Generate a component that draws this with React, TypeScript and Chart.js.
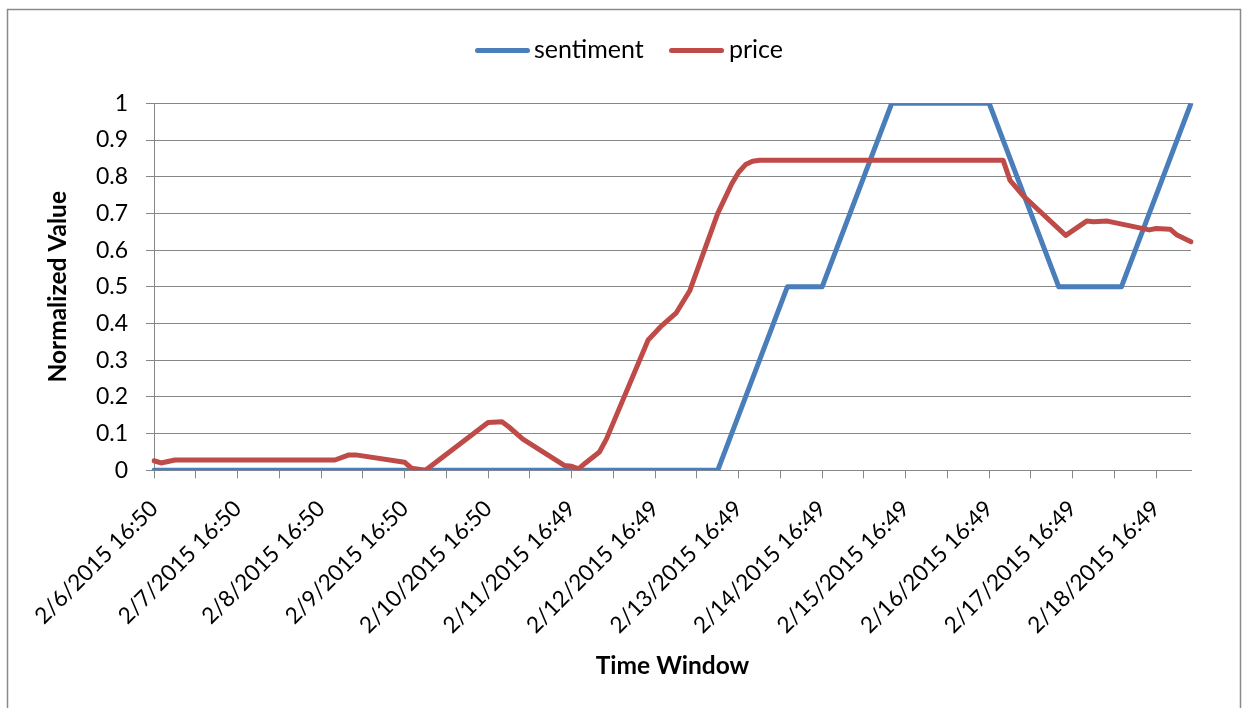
import React, { useEffect, useRef } from 'react';
import { Chart, registerables } from 'chart.js';

Chart.register(...registerables);

// Tick labels shown every 12th 2-hour category (one per day)
const dayLabels = [
  '2/6/2015 16:50', '2/7/2015 16:50', '2/8/2015 16:50', '2/9/2015 16:50',
  '2/10/2015 16:50', '2/11/2015 16:49', '2/12/2015 16:49', '2/13/2015 16:49',
  '2/14/2015 16:49', '2/15/2015 16:49', '2/16/2015 16:49', '2/17/2015 16:49',
  '2/18/2015 16:49',
];
const categoryCount = 150;
const labelEvery = 12;
const tickEvery = 6;

// Series: category index -> value (empty cells in between are connected)
const sentimentIdx = [0, 81, 91, 96, 106, 120, 130, 139, 149];
const sentimentVal = [0, 0, 0.5, 0.5, 1, 1, 0.5, 0.5, 1];

const priceIdx = [0, 1, 3, 26, 28, 29, 36, 37, 39, 48, 50, 51, 53, 59, 60, 61, 62, 64, 65, 71, 73, 75, 77, 81, 83, 84, 85, 86, 87, 122, 123, 125, 131, 134, 135, 137, 143, 144, 146, 147, 149];
const priceVal = [0.026, 0.02, 0.028, 0.028, 0.042, 0.042, 0.022, 0.006, 0.0, 0.13, 0.132, 0.118, 0.085, 0.013, 0.011, 0.004, 0.02, 0.05, 0.085, 0.355, 0.395, 0.428, 0.49, 0.7, 0.78, 0.812, 0.833, 0.842, 0.845, 0.845, 0.79, 0.746, 0.64, 0.679, 0.677, 0.679, 0.655, 0.659, 0.657, 0.641, 0.623];

const seriesNames = ['sentiment', 'price'];
const seriesColors = ['#4A7EBB', '#BE4B48'];

const FONT = "Lato, 'Open Sans', sans-serif";
const GRID = '#878787';

function sparse(idx: number[], vals: number[]) {
  const arr: (number | null)[] = new Array(categoryCount).fill(null);
  idx.forEach((k, i) => { arr[k] = vals[i]; });
  return arr;
}

const categories = Array.from({ length: categoryCount }, (_, i) =>
  i % labelEvery === 0 ? dayLabels[i / labelEvery] : ''
);

const framePlugin = {
  id: 'frame',
  beforeDraw(chart: any) {
    const ctx = chart.ctx;
    ctx.save();
    ctx.fillStyle = '#ffffff';
    ctx.fillRect(0, 0, chart.width, chart.height);
    ctx.strokeStyle = '#8a8a8a';
    ctx.lineWidth = 1.5;
    ctx.strokeRect(7.5, 9.5, 1233, 720);
    ctx.restore();
  },
};

export default function App() {
  const ref = useRef<HTMLCanvasElement | null>(null);

  useEffect(() => {
    if (!ref.current) return;
    const chart = new Chart(ref.current, {
      type: 'line',
      data: {
        labels: categories,
        datasets: [
          {
            label: seriesNames[0],
            data: sparse(sentimentIdx, sentimentVal),
            borderColor: seriesColors[0],
            backgroundColor: seriesColors[0],
            borderWidth: 5,
            pointRadius: 0,
            spanGaps: true,
            tension: 0,
            borderJoinStyle: 'round',
            borderCapStyle: 'round',
            order: 1,
          },
          {
            label: seriesNames[1],
            data: sparse(priceIdx, priceVal),
            borderColor: seriesColors[1],
            backgroundColor: seriesColors[1],
            borderWidth: 5,
            pointRadius: 0,
            spanGaps: true,
            tension: 0,
            borderJoinStyle: 'round',
            borderCapStyle: 'round',
            order: 0,
          },
        ],
      } as any,
      options: {
        responsive: false,
        animation: false,
        events: [],
        layout: { padding: { left: 0, right: 53, top: 103.3, bottom: 0 } },
        plugins: { legend: { display: false }, tooltip: { enabled: false } },
        scales: {
          x: {
            type: 'category',
            offset: false,
            grid: {
              drawOnChartArea: false,
              drawTicks: true,
              tickLength: 8,
              lineWidth: 1,
              color: (c: any) => (c.index % tickEvery === 0 ? GRID : 'rgba(0,0,0,0)'),
            },
            border: { display: true, color: GRID, width: 1 },
            ticks: {
              autoSkip: false,
              minRotation: 45,
              maxRotation: 45,
              padding: 17,
              color: '#000',
              font: { family: FONT, size: 22.6 },
              callback: (_v: any, i: number) => (i % labelEvery === 0 ? dayLabels[i / labelEvery] : ''),
            },
            title: {
              display: true,
              text: 'Time Window',
              color: '#000',
              font: { family: FONT, size: 24.5, weight: 'bold' },
              padding: { top: 0, bottom: 27 },
            },
            afterFit: (s: any) => { s.height = 708 - 470.3; },
          },
          y: {
            min: 0,
            max: 1,
            grid: { color: GRID, lineWidth: 1, tickLength: 8 },
            border: { display: true, color: GRID, width: 1 },
            ticks: {
              stepSize: 0.1,
              padding: 18,
              color: '#000',
              font: { family: FONT, size: 23 },
              callback: (v: any) => String(Math.round(Number(v) * 10) / 10),
            },
            title: {
              display: true,
              text: 'Normalized Value',
              color: '#000',
              font: { family: FONT, size: 24.5, weight: 'bold' },
              padding: { top: 43, bottom: 0 },
            },
            afterFit: (s: any) => { s.width = 154; },
          },
        },
      } as any,
      plugins: [framePlugin],
    });
    return () => chart.destroy();
  }, []);

  const legendItems = [
    { name: seriesNames[0], color: seriesColors[0], lineLeft: 475, textLeft: 534 },
    { name: seriesNames[1], color: seriesColors[1], lineLeft: 669, textLeft: 729 },
  ];

  return (
    <div style={{ position: 'fixed', left: 0, top: 0, width: 1244, height: 708, overflow: 'hidden', background: '#fff' }}>
      <canvas ref={ref} width={1244} height={708} style={{ display: 'block', width: 1244, height: 708 }} />
      {legendItems.map((it) => (
        <React.Fragment key={it.name}>
          <div style={{ position: 'absolute', left: it.lineLeft, top: 47.5, width: 55, height: 5, borderRadius: 3, background: it.color }} />
          <span style={{ position: 'absolute', left: it.textLeft, top: 36, fontFamily: FONT, fontSize: 25, lineHeight: '25px', color: '#000', whiteSpace: 'nowrap' }}>{it.name}</span>
        </React.Fragment>
      ))}
    </div>
  );
}
